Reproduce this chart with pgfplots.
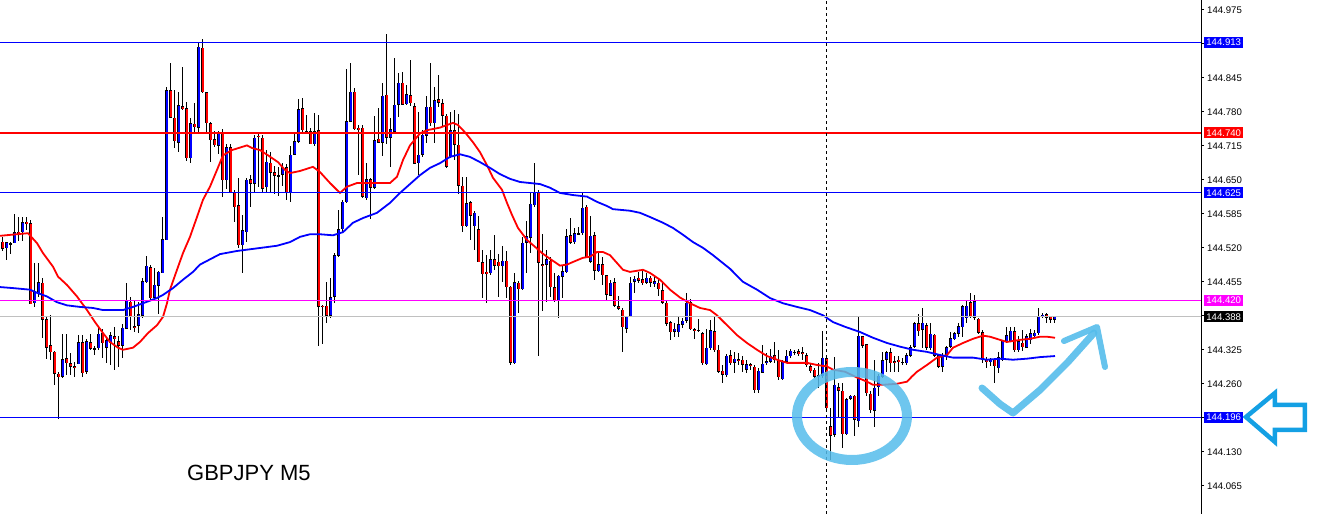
\documentclass[border=0pt]{standalone}
\usepackage{fontspec}
\setmainfont{Liberation Sans}
\usepackage{pgfplots}
\usepackage{pgfplotstable}
\pgfplotsset{compat=1.18}
\definecolor{mtblue}{RGB}{0,0,255}
\definecolor{mtred}{RGB}{255,0,0}
\definecolor{mtmag}{RGB}{255,0,255}
\definecolor{mtsilver}{RGB}{192,192,192}
\definecolor{annot}{RGB}{20,160,228}
\definecolor{annotlight}{RGB}{85,188,235}

\pgfplotstableread{
k o h l c
0 144.533 144.543 144.516 144.520
1 144.520 144.533 144.497 144.531
2 144.529 144.533 144.510 144.528
3 144.529 144.586 144.529 144.550
4 144.552 144.579 144.533 144.546
5 144.550 144.579 144.533 144.569
6 144.571 144.579 144.554 144.567
7 144.569 144.573 144.414 144.414
8 144.414 144.491 144.407 144.438
9 144.434 144.491 144.426 144.455
10 144.455 144.463 144.348 144.384
11 144.384 144.390 144.308 144.329
12 144.334 144.393 144.306 144.321
13 144.321 144.323 144.258 144.279
14 144.281 144.283 144.193 144.274
15 144.274 144.355 144.272 144.308
16 144.310 144.357 144.277 144.300
17 144.300 144.319 144.277 144.293
18 144.295 144.302 144.274 144.291
19 144.298 144.353 144.298 144.340
20 144.340 144.355 144.274 144.281
21 144.283 144.348 144.281 144.342
22 144.340 144.357 144.325 144.327
23 144.329 144.333 144.315 144.327
24 144.329 144.367 144.325 144.357
25 144.357 144.367 144.310 144.338
26 144.329 144.348 144.300 144.344
27 144.338 144.359 144.296 144.353
28 144.352 144.369 144.287 144.346
29 144.342 144.353 144.293 144.333
30 144.333 144.376 144.310 144.367
31 144.367 144.453 144.367 144.420
32 144.418 144.427 144.363 144.388
33 144.371 144.420 144.359 144.367
34 144.371 144.416 144.357 144.393
35 144.391 144.463 144.388 144.457
36 144.455 144.505 144.453 144.486
37 144.484 144.488 144.420 144.425
38 144.425 144.482 144.420 144.449
39 144.449 144.478 144.395 144.476
40 144.472 144.579 144.472 144.537
41 144.535 144.828 144.535 144.822
42 144.822 144.875 144.769 144.769
43 144.769 144.822 144.711 144.724
44 144.722 144.818 144.703 144.793
45 144.792 144.866 144.784 144.786
46 144.788 144.801 144.688 144.692
47 144.692 144.769 144.682 144.759
48 144.759 144.799 144.739 144.752
49 144.750 144.914 144.739 144.905
50 144.903 144.920 144.818 144.818
51 144.818 144.820 144.739 144.759
52 144.759 144.761 144.684 144.726
53 144.728 144.745 144.713 144.716
54 144.716 144.745 144.701 144.741
55 144.741 144.748 144.618 144.650
56 144.650 144.720 144.635 144.713
57 144.713 144.720 144.627 144.627
58 144.627 144.631 144.569 144.599
59 144.602 144.654 144.520 144.525
60 144.525 144.582 144.472 144.554
61 144.550 144.654 144.531 144.650
62 144.652 144.659 144.599 144.644
63 144.644 144.735 144.625 144.732
64 144.735 144.739 144.637 144.732
65 144.732 144.735 144.625 144.635
66 144.635 144.707 144.625 144.684
67 144.684 144.703 144.625 144.665
68 144.665 144.678 144.625 144.658
69 144.659 144.675 144.621 144.658
70 144.661 144.684 144.640 144.675
71 144.675 144.682 144.612 144.627
72 144.627 144.716 144.608 144.699
73 144.699 144.741 144.697 144.724
74 144.724 144.807 144.722 144.786
75 144.788 144.807 144.741 144.745
76 144.745 144.774 144.741 144.743
77 144.745 144.750 144.720 144.720
78 144.720 144.778 144.716 144.745
79 144.745 144.774 144.333 144.407
80 144.410 144.412 144.338 144.407
81 144.410 144.455 144.376 144.391
82 144.391 144.463 144.386 144.427
83 144.427 144.512 144.416 144.506
84 144.505 144.592 144.503 144.556
85 144.556 144.612 144.550 144.608
86 144.608 144.864 144.606 144.763
87 144.763 144.875 144.761 144.820
88 144.820 144.826 144.745 144.748
89 144.750 144.755 144.659 144.746
90 144.750 144.755 144.616 144.618
91 144.616 144.684 144.612 144.652
92 144.652 144.656 144.577 144.635
93 144.635 144.773 144.633 144.726
94 144.730 144.788 144.720 144.722
95 144.722 144.837 144.697 144.812
96 144.814 144.931 144.720 144.732
97 144.732 144.769 144.675 144.748
98 144.743 144.885 144.741 144.795
99 144.795 144.854 144.771 144.837
100 144.837 144.856 144.793 144.795
101 144.795 144.831 144.793 144.814
102 144.812 144.881 144.793 144.797
103 144.792 144.797 144.682 144.682
104 144.682 144.780 144.659 144.699
105 144.699 144.745 144.694 144.737
106 144.735 144.811 144.722 144.790
107 144.790 144.875 144.755 144.759
108 144.759 144.828 144.722 144.803
109 144.805 144.851 144.790 144.799
110 144.797 144.807 144.752 144.773
111 144.773 144.778 144.675 144.675
112 144.694 144.780 144.692 144.745
113 144.745 144.784 144.688 144.718
114 144.718 144.778 144.625 144.640
115 144.639 144.656 144.552 144.562
116 144.562 144.656 144.560 144.606
117 144.608 144.610 144.535 144.582
118 144.562 144.592 144.516 144.588
119 144.556 144.582 144.493 144.493
120 144.493 144.516 144.425 144.470
121 144.474 144.506 144.414 144.470
122 144.472 144.516 144.468 144.499
123 144.499 144.546 144.478 144.486
124 144.493 144.510 144.427 144.484
125 144.486 144.525 144.455 144.497
126 144.497 144.514 144.425 144.446
127 144.446 144.448 144.296 144.300
128 144.300 144.472 144.298 144.455
129 144.455 144.457 144.395 144.442
130 144.442 144.541 144.440 144.531
131 144.531 144.573 144.474 144.543
132 144.541 144.627 144.510 144.606
133 144.602 144.682 144.599 144.627
134 144.627 144.631 144.315 144.491
135 144.489 144.548 144.401 144.486
136 144.488 144.516 144.416 144.499
137 144.497 144.503 144.427 144.446
138 144.446 144.472 144.418 144.420
139 144.420 144.469 144.388 144.467
140 144.465 144.488 144.425 144.476
141 144.474 144.558 144.472 144.543
142 144.546 144.579 144.529 144.531
143 144.531 144.560 144.529 144.548
144 144.548 144.560 144.546 144.547
145 144.548 144.625 144.546 144.597
146 144.599 144.602 144.501 144.501
147 144.493 144.582 144.491 144.543
148 144.544 144.550 144.459 144.476
149 144.476 144.510 144.474 144.489
150 144.489 144.503 144.449 144.468
151 144.468 144.470 144.420 144.430
152 144.430 144.459 144.427 144.455
153 144.455 144.463 144.407 144.410
154 144.410 144.427 144.401 144.405
155 144.403 144.405 144.321 144.369
156 144.367 144.392 144.359 144.390
157 144.390 144.465 144.388 144.455
158 144.455 144.468 144.434 144.461
159 144.463 144.474 144.453 144.457
160 144.461 144.478 144.449 144.453
161 144.453 144.472 144.451 144.463
162 144.463 144.467 144.446 144.453
163 144.451 144.467 144.446 144.457
164 144.455 144.461 144.430 144.442
165 144.440 144.455 144.414 144.416
166 144.416 144.420 144.372 144.376
167 144.378 144.382 144.344 144.359
168 144.359 144.378 144.350 144.365
169 144.359 144.391 144.350 144.374
170 144.374 144.388 144.369 144.382
171 144.382 144.434 144.378 144.416
172 144.416 144.422 144.363 144.365
173 144.365 144.369 144.348 144.361
174 144.363 144.384 144.359 144.362
175 144.357 144.359 144.296 144.300
176 144.298 144.365 144.296 144.329
177 144.329 144.382 144.325 144.363
178 144.361 144.388 144.321 144.325
179 144.325 144.334 144.281 144.283
180 144.285 144.296 144.262 144.277
181 144.277 144.317 144.274 144.315
182 144.315 144.325 144.296 144.300
183 144.300 144.321 144.281 144.308
184 144.308 144.319 144.296 144.304
185 144.306 144.315 144.283 144.296
186 144.287 144.306 144.281 144.298
187 144.298 144.302 144.287 144.295
188 144.293 144.296 144.244 144.248
189 144.248 144.291 144.242 144.285
190 144.283 144.334 144.281 144.300
191 144.300 144.319 144.296 144.304
192 144.304 144.327 144.300 144.315
193 144.315 144.342 144.302 144.306
194 144.306 144.325 144.268 144.272
195 144.270 144.306 144.268 144.304
196 144.304 144.325 144.302 144.315
197 144.313 144.327 144.311 144.323
198 144.323 144.327 144.317 144.321
199 144.323 144.327 144.315 144.317
200 144.321 144.331 144.306 144.317
201 144.315 144.319 144.293 144.296
202 144.295 144.300 144.283 144.285
203 144.287 144.291 144.272 144.274
204 144.274 144.302 144.253 144.277
205 144.274 144.363 144.272 144.310
206 144.310 144.312 144.212 144.214
207 144.180 144.214 144.115 144.162
208 144.162 144.313 144.160 144.258
209 144.254 144.262 144.197 144.248
210 144.248 144.262 144.138 144.164
211 144.164 144.233 144.162 144.231
212 144.231 144.239 144.229 144.237
213 144.237 144.239 144.160 144.191
214 144.189 144.388 144.178 144.352
215 144.352 144.353 144.331 144.334
216 144.336 144.338 144.238 144.242
217 144.242 144.248 144.206 144.210
218 144.210 144.306 144.178 144.254
219 144.254 144.281 144.238 144.276
220 144.274 144.321 144.272 144.306
221 144.306 144.323 144.283 144.321
222 144.321 144.329 144.283 144.300
223 144.304 144.315 144.283 144.300
224 144.306 144.313 144.283 144.302
225 144.300 144.310 144.296 144.302
226 144.300 144.319 144.296 144.315
227 144.315 144.334 144.311 144.331
228 144.331 144.378 144.329 144.376
229 144.376 144.395 144.353 144.361
230 144.363 144.405 144.329 144.376
231 144.372 144.376 144.325 144.329
232 144.329 144.376 144.325 144.357
233 144.355 144.357 144.313 144.315
234 144.315 144.317 144.291 144.293
235 144.293 144.319 144.283 144.315
236 144.315 144.334 144.306 144.331
237 144.331 144.359 144.329 144.348
238 144.346 144.359 144.344 144.357
239 144.357 144.378 144.350 144.371
240 144.369 144.411 144.350 144.409
241 144.386 144.420 144.378 144.410
242 144.416 144.434 144.386 144.388
243 144.386 144.431 144.384 144.418
244 144.386 144.388 144.357 144.359
245 144.359 144.363 144.300 144.308
246 144.308 144.311 144.291 144.302
247 144.302 144.311 144.296 144.308
248 144.306 144.308 144.262 144.293
249 144.289 144.321 144.281 144.310
250 144.306 144.344 144.304 144.342
251 144.342 144.369 144.338 144.353
252 144.342 144.369 144.340 144.363
253 144.361 144.369 144.321 144.325
254 144.325 144.353 144.321 144.342
255 144.340 144.363 144.323 144.331
256 144.331 144.357 144.329 144.353
257 144.344 144.367 144.338 144.357
258 144.352 144.363 144.350 144.359
259 144.357 144.405 144.355 144.390
260 144.388 144.395 144.386 144.393
261 144.393 144.395 144.376 144.386
262 144.388 144.391 144.378 144.382
263 144.382 144.391 144.376 144.388
}\candles

\begin{document}
\begin{tikzpicture}
\begin{axis}[
  scale only axis, width=1201pt, height=514pt,
  xmin=-0.667, xmax=299.583,
  ymin=144.0109, ymax=144.9941,
  axis x line=none, axis y line=right,
  y axis line style={-, black, line width=1pt},
  xtick=\empty,
  ytick={144.065,144.130,144.195,144.260,144.325,144.390,144.455,144.520,144.585,144.650,144.715,144.780,144.845,144.910,144.975},
  yticklabels={144.065,144.130,144.195,144.260,144.325,144.390,144.455,144.520,144.585,144.650,144.715,144.780,144.845,144.910,144.975},
  tick align=outside, major tick length=3pt,
  tick style={black, line width=1pt},
  yticklabel style={font=\fontsize{9.6}{11}\selectfont, anchor=west, inner sep=0pt, xshift=3pt},
  clip=false,
]
% wicks
\addplot[draw=none, mark=none, forget plot,
  error bars/.cd, y dir=both, y explicit, error mark=none,
  error bar style={draw=black, line width=1pt}]
  table[x=k, y expr={(\thisrow{h}+\thisrow{l})/2}, y error expr={(\thisrow{h}-\thisrow{l})/2}] {\candles};
% body outline
\addplot[draw=none, mark=none, forget plot,
  error bars/.cd, y dir=both, y explicit, error mark=none,
  error bar style={draw=black, line width=3.6pt}]
  table[x=k, y expr={(\thisrow{o}+\thisrow{c})/2}, y error expr={max(abs(\thisrow{o}-\thisrow{c})/2,0.0010)}] {\candles};
% bull bodies
\addplot[draw=none, mark=none, forget plot,
  error bars/.cd, y dir=both, y explicit, error mark=none,
  error bar style={draw=mtblue, line width=1.8pt}]
  table[x=k, y expr={(\thisrow{o}+\thisrow{c})/2}, y error expr={(\thisrow{c}>\thisrow{o})*max(abs(\thisrow{o}-\thisrow{c})/2-0.0010,0)}] {\candles};
% bear bodies
\addplot[draw=none, mark=none, forget plot,
  error bars/.cd, y dir=both, y explicit, error mark=none,
  error bar style={draw=mtred, line width=1.8pt}]
  table[x=k, y expr={(\thisrow{o}+\thisrow{c})/2}, y error expr={(\thisrow{o}>\thisrow{c})*max(abs(\thisrow{o}-\thisrow{c})/2-0.0010,0)}] {\candles};

% fast MA (red)
\addplot[mtred, line width=1.8pt, mark=none] coordinates {
(-0.67,144.543) (6.33,144.548) (8.58,144.529) (10.08,144.510) (12.58,144.484) (13.83,144.465) (16.08,144.449) (18.58,144.427) (21.08,144.401) (23.08,144.378) (25.08,144.357) (26.83,144.340) (28.83,144.329) (30.08,144.325) (32.58,144.329) (34.33,144.340) (36.33,144.357) (38.58,144.372) (40.08,144.388) (41.08,144.414) (41.83,144.440) (43.58,144.478) (45.08,144.510) (46.83,144.541) (48.58,144.579) (50.08,144.612) (51.83,144.637) (53.58,144.669) (55.08,144.697) (57.33,144.707) (61.08,144.716) (62.33,144.711) (64.33,144.707) (66.33,144.697) (68.83,144.684) (70.58,144.669) (71.83,144.663) (74.33,144.667) (77.58,144.675) (79.33,144.665) (81.83,144.644) (84.33,144.625) (86.08,144.637) (88.58,144.644) (91.08,144.644) (96.83,144.644) (98.58,144.656) (100.08,144.688) (101.83,144.716) (104.33,144.739) (106.08,144.745) (109.33,144.750) (111.08,144.755) (112.58,144.759) (113.83,144.755) (115.58,144.741) (117.58,144.722) (119.33,144.703) (121.08,144.678) (122.58,144.654) (124.83,144.631) (126.08,144.606) (127.33,144.583) (128.83,144.558) (131.08,144.535) (133.08,144.522) (134.83,144.510) (136.83,144.499) (139.33,144.486) (141.08,144.488) (142.58,144.493) (145.08,144.501) (146.83,144.503) (148.58,144.512) (150.08,144.512) (151.83,144.506) (153.58,144.491) (155.08,144.478) (156.83,144.474) (160.08,144.478) (161.83,144.472) (164.33,144.459) (166.83,144.440) (169.33,144.425) (171.83,144.414) (174.33,144.405) (176.83,144.401) (178.58,144.391) (181.08,144.372) (183.58,144.353) (186.08,144.338) (188.58,144.325) (191.08,144.313) (193.58,144.306) (196.08,144.300) (198.58,144.300) (201.08,144.300) (203.58,144.296) (206.08,144.293) (207.58,144.287) (210.58,144.283) (213.58,144.272) (216.08,144.264) (217.58,144.258) (220.08,144.258) (223.58,144.260) (226.08,144.264) (227.33,144.274) (228.58,144.283) (231.08,144.296) (233.58,144.310) (236.08,144.315) (237.58,144.329) (240.08,144.338) (242.58,144.346) (245.08,144.352) (246.83,144.350) (249.33,144.344) (251.08,144.340) (254.33,144.344) (256.83,144.346) (259.33,144.350) (261.08,144.350) (263.08,144.348)
};
% slow MA (blue)
\addplot[mtblue, line width=1.8pt, mark=none] coordinates {
(-0.67,144.445) (2.58,144.443) (6.83,144.440) (8.58,144.434) (11.08,144.427) (13.58,144.416) (16.08,144.410) (19.33,144.407) (22.58,144.405) (25.08,144.401) (30.08,144.401) (32.58,144.407) (35.08,144.414) (38.58,144.424) (40.08,144.430) (42.58,144.443) (45.08,144.459) (47.58,144.474) (49.33,144.488) (51.08,144.495) (53.08,144.503) (54.33,144.508) (58.58,144.514) (62.58,144.518) (68.58,144.524) (71.83,144.531) (74.33,144.541) (76.83,144.546) (79.33,144.546) (82.58,144.544) (85.08,144.550) (87.58,144.568) (90.08,144.577) (93.58,144.587) (96.83,144.606) (99.33,144.625) (101.83,144.642) (104.33,144.659) (106.83,144.673) (109.33,144.682) (111.83,144.694) (114.33,144.699) (116.83,144.694) (119.33,144.684) (121.83,144.673) (124.33,144.661) (126.83,144.652) (129.33,144.646) (131.83,144.644) (134.33,144.642) (136.83,144.635) (139.33,144.625) (142.58,144.621) (146.08,144.618) (148.58,144.608) (151.08,144.600) (152.58,144.594) (156.83,144.591) (159.33,144.587) (161.83,144.579) (165.08,144.568) (167.58,144.558) (170.08,144.545) (172.58,144.531) (175.08,144.520) (177.58,144.506) (181.83,144.480) (185.08,144.455) (188.58,144.440) (191.83,144.424) (195.08,144.414) (198.58,144.407) (201.83,144.401) (205.08,144.391) (207.58,144.378) (210.58,144.369) (214.33,144.359) (217.58,144.348) (221.08,144.338) (224.33,144.331) (227.58,144.325) (231.08,144.321) (234.33,144.315) (237.58,144.310) (242.58,144.310) (246.08,144.306) (249.33,144.308) (252.58,144.306) (256.08,144.308) (259.33,144.311) (263.08,144.313)
};

% horizontal levels
\addplot[mtblue, line width=1pt] coordinates {(-0.667,144.913) (299.583,144.913)};
\addplot[mtred, line width=2pt] coordinates {(-0.667,144.740) (299.583,144.740)};
\addplot[mtblue, line width=1pt] coordinates {(-0.667,144.625) (299.583,144.625)};
\addplot[mtmag, line width=1pt] coordinates {(-0.667,144.420) (299.583,144.420)};
\addplot[mtsilver, line width=1pt] coordinates {(-0.667,144.388) (299.583,144.388)};
\addplot[mtblue, line width=1pt] coordinates {(-0.667,144.196) (299.583,144.196)};
% vertical dashed line
\addplot[black, line width=1pt, dash pattern=on 3pt off 3pt] coordinates {(205.92,144.0109) (205.92,144.9941)};

% price labels
\tikzset{pl/.style={anchor=west, xshift=3pt, inner sep=0pt, minimum width=39pt, minimum height=11pt, text=white, font=\fontsize{9.6}{11}\selectfont}}
\node[pl, fill=mtblue] at (axis cs:299.583,144.913) {144.913};
\node[pl, fill=mtred] at (axis cs:299.583,144.740) {144.740};
\node[pl, fill=mtblue] at (axis cs:299.583,144.625) {144.625};
\node[pl, fill=mtmag] at (axis cs:299.583,144.420) {144.420};
\node[pl, fill=black] at (axis cs:299.583,144.388) {144.388};
\node[pl, fill=mtblue] at (axis cs:299.583,144.196) {144.196};

\node[anchor=base west, inner sep=0pt, font=\fontsize{22}{26}\selectfont] at (axis cs:46.08,144.0745) {GBPJPY M5};

\coordinate (LL) at (rel axis cs:0,0);
\coordinate (UR) at (rel axis cs:1,1);
\coordinate (UL) at (rel axis cs:0,1);
\end{axis}
% hand-drawn annotations (pixel frame from upper-left corner)
\begin{scope}[shift={(UL)}, x=1pt, y=-1pt]
  \draw[annotlight, line width=10pt, opacity=0.85] (852,416) ellipse [x radius=55, y radius=44];
  \draw[annotlight, line width=7pt, line cap=round, line join=round, opacity=0.9]
    (982,388) -- (1000,404) -- (1013,413) -- (1040,390) -- (1068,362) -- (1094,333);
  \draw[annotlight, line width=6pt, line cap=round, line join=round, opacity=0.9]
    (1064,341) -- (1097,327) -- (1105,367);
  \draw[annot, line width=4.5pt, line join=miter]
    (1246,417) -- (1275,393) -- (1275,405) -- (1305,405) -- (1305,430) -- (1275,430) -- (1275,442) -- cycle;
\end{scope}
\pgfresetboundingbox
\path (LL) rectangle ([xshift=120pt]UR);
\end{tikzpicture}
\end{document}
